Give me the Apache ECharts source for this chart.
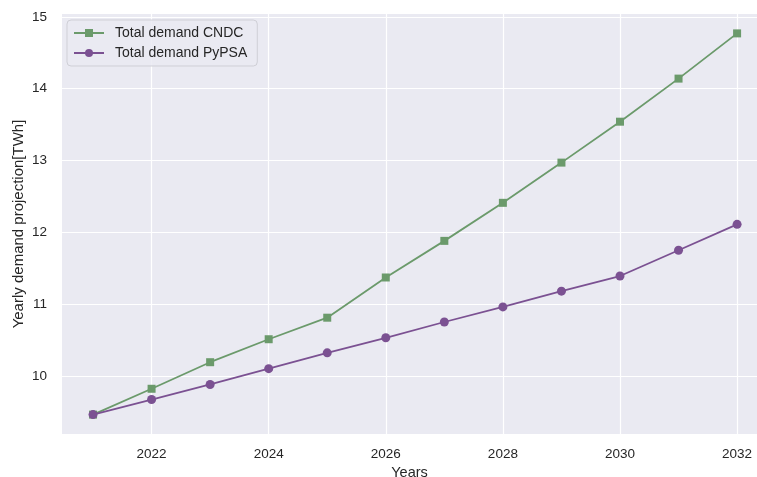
<!DOCTYPE html>
<html>
<head>
<meta charset="utf-8">
<script src="https://cdn.jsdelivr.net/npm/echarts@6/dist/echarts.min.js"></script>
<style>
  html, body { margin: 0; padding: 0; background: #ffffff; }
  #chart { width: 757px; height: 477px; }
</style>
</head>
<body>
<div id="chart"></div>
<script>
// Projected yearly electricity demand, two scenarios (TWh)
const years = [2021, 2022, 2023, 2024, 2025, 2026, 2027, 2028, 2029, 2030, 2031, 2032];
const demandCNDC  = [9.46, 9.82, 10.19, 10.51, 10.81, 11.37, 11.88, 12.41, 12.97, 13.54, 14.14, 14.77];
const demandPyPSA = [9.46, 9.67, 9.88, 10.10, 10.32, 10.53, 10.75, 10.96, 11.18, 11.39, 11.75, 12.11];
const xTicks = [2022, 2024, 2026, 2028, 2030, 2032];
const yTicks = [10, 11, 12, 13, 14, 15];

const pairs = arr => years.map((y, i) => [y, arr[i]]);

const font = 'Liberation Sans, Arial, sans-serif';
const textColor = '#262626';

const chart = echarts.init(document.getElementById('chart'), null, { renderer: 'canvas' });
chart.setOption({
  backgroundColor: '#ffffff',
  animation: false,
  grid: { left: 62, top: 14, right: 0, bottom: 43, containLabel: false,
          outerBoundsMode: 'none',
          show: true, backgroundColor: '#eaeaf2', borderWidth: 0 },
  legend: {
    orient: 'vertical',
    left: 67, top: 20,
    padding: [6, 10, 6, 6],
    itemGap: 6,
    itemWidth: 30, itemHeight: 10,
    backgroundColor: 'rgba(234,234,242,0.85)',
    borderColor: '#cfcfd6', borderWidth: 1, borderRadius: 4,
    textStyle: { fontFamily: font, fontSize: 14, color: textColor, padding: [0, 0, 0, 6] },
    data: ['Total demand CNDC', 'Total demand PyPSA']
  },
  xAxis: {
    type: 'value',
    min: 2020.47, max: 2032.34,
    name: 'Years', nameLocation: 'middle', nameGap: 30,
    nameTextStyle: { fontFamily: font, fontSize: 14.5, color: textColor },
    axisLine: { show: false },
    axisTick: { show: false, customValues: xTicks },
    axisLabel: { customValues: xTicks, formatter: v => String(v),
                 fontFamily: font, fontSize: 13.5, color: textColor, margin: 13 },
    splitLine: { show: true, lineStyle: { color: '#ffffff', width: 1.2 } }
  },
  yAxis: {
    type: 'value',
    min: 9.19, max: 15.04,
    name: 'Yearly demand projection[TWh]', nameLocation: 'middle', nameGap: 36,
    nameMoveOverlap: false,
    nameTextStyle: { fontFamily: font, fontSize: 15, color: textColor },
    axisLine: { show: false },
    axisTick: { show: false, customValues: yTicks },
    axisLabel: { customValues: yTicks, formatter: v => String(v),
                 fontFamily: font, fontSize: 13.5, color: textColor, margin: 15 },
    splitLine: { show: true, lineStyle: { color: '#ffffff', width: 1.2 } }
  },
  series: [
    {
      name: 'Total demand CNDC', type: 'line', data: pairs(demandCNDC),
      symbol: 'rect', symbolSize: 8,
      lineStyle: { color: '#6b9a6b', width: 1.8 },
      itemStyle: { color: '#6b9a6b' },
      z: 3
    },
    {
      name: 'Total demand PyPSA', type: 'line', data: pairs(demandPyPSA),
      symbol: 'circle', symbolSize: 9,
      lineStyle: { color: '#7b5192', width: 1.8 },
      itemStyle: { color: '#7b5192' },
      z: 4
    }
  ]
});
</script>
</body>
</html>
